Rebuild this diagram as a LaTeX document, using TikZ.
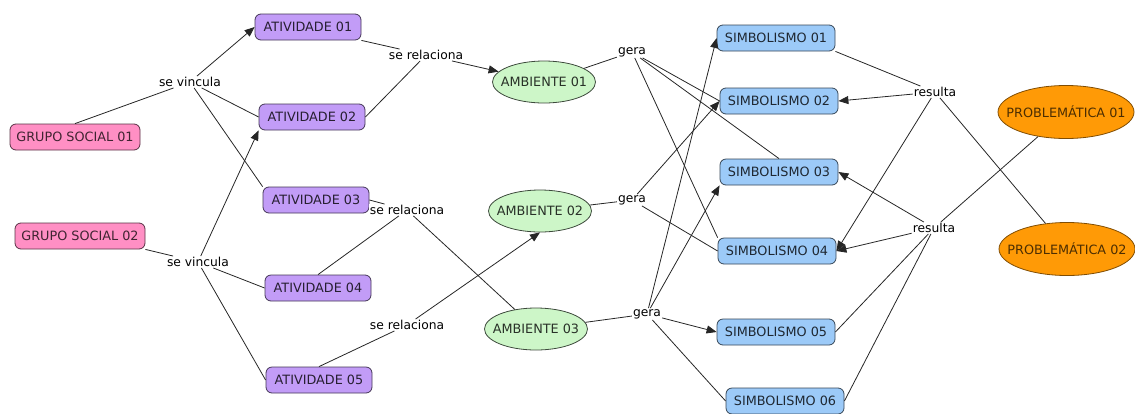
\documentclass[tikz,border=0pt]{standalone}
\usepackage{fontspec}
\setmainfont{DejaVu Sans}
\usetikzlibrary{shapes.geometric,arrows.meta}
\definecolor{gsfill}{HTML}{FF8FC4}
\definecolor{atfill}{HTML}{C29CF7}
\definecolor{amfill}{HTML}{CDF6C8}
\definecolor{smfill}{HTML}{9CCAF8}
\definecolor{prfill}{HTML}{FF9A06}
\begin{document}
\begin{tikzpicture}[x=1pt,y=-1pt,
    caixa/.style={rounded corners=6pt,minimum height=26pt,inner sep=0pt,line width=0.8pt,font=\fontsize{12.8}{15}\selectfont},
    gs/.style={caixa,draw=gsfill!35!black,fill=gsfill,text=gsfill!25!black,minimum width=130pt},
    ativ/.style={caixa,draw=atfill!35!black,fill=atfill,text=atfill!20!black,minimum width=106pt},
    simb/.style={caixa,draw=smfill!35!black,fill=smfill,text=smfill!20!black,minimum width=118pt},
    amb/.style={ellipse,draw=amfill!30!black,fill=amfill,text=amfill!20!black,inner xsep=-8pt,inner ysep=0pt,line width=0.8pt,minimum width=103pt,minimum height=42pt,font=\fontsize{12.8}{15}\selectfont},
    prob/.style={ellipse,draw=prfill!50!black,fill=prfill,text=prfill!30!black,inner xsep=-12pt,inner ysep=0pt,line width=0.8pt,minimum width=136pt,minimum height=53pt,font=\fontsize{12.8}{15}\selectfont},
    rel/.style={fill=white,inner sep=1pt,font=\fontsize{12.3}{14}\selectfont},
    liga/.style={line width=0.8pt,draw=black!85},
    seta/.style={liga,-{Triangle[length=10pt,width=8pt]}}]
\useasboundingbox (0,0) rectangle (1135,413);
\node[gs] (gs1) at (75,137) {GRUPO SOCIAL 01};
\node[gs] (gs2) at (80,236) {GRUPO SOCIAL 02};
\node[ativ] (at1) at (308,27) {ATIVIDADE 01};
\node[ativ] (at2) at (312,117) {ATIVIDADE 02};
\node[ativ] (at3) at (316,200) {ATIVIDADE 03};
\node[ativ] (at4) at (318,288) {ATIVIDADE 04};
\node[ativ] (at5) at (319,380) {ATIVIDADE 05};
\node[amb] (am1) at (544,82) {AMBIENTE 01};
\node[amb] (am2) at (540,211) {AMBIENTE 02};
\node[amb] (am3) at (536,329) {AMBIENTE 03};
\node[simb] (sm1) at (776,38) {SIMBOLISMO 01};
\node[simb] (sm2) at (779,101) {SIMBOLISMO 02};
\node[simb] (sm3) at (779,172) {SIMBOLISMO 03};
\node[simb] (sm4) at (777,251) {SIMBOLISMO 04};
\node[simb] (sm5) at (776,332) {SIMBOLISMO 05};
\node[simb] (sm6) at (785,401) {SIMBOLISMO 06};
\node[prob] (pr1) at (1066,112) {PROBLEMÁTICA 01};
\node[prob] (pr2) at (1067,249) {PROBLEMÁTICA 02};
\node[rel] (vi1) at (190,82) {se vincula};
\node[rel] (vi2) at (198,262) {se vincula};
\node[rel] (re1) at (426,55) {se relaciona};
\node[rel] (re2) at (407,210) {se relaciona};
\node[rel] (re3) at (407,325) {se relaciona};
\node[rel] (ge1) at (632,52) {gera};
\node[rel] (ge2) at (632,200) {gera};
\node[rel] (ge3) at (647,314) {gera};
\node[rel] (rs1) at (935,92) {resulta};
\node[rel] (rs2) at (934,228) {resulta};
\draw[liga] (gs1.north) -- (vi1);
\draw[seta] (vi1) -- (at1.west);
\draw[liga] (vi1) -- (at2.west);
\draw[liga] (vi1) -- (at3.north west);
\draw[liga] (gs2.south east) -- (vi2);
\draw[seta] (vi2) -- (at2.south west);
\draw[liga] (vi2) -- (at4.west);
\draw[liga] (vi2) -- (at5.west);
\draw[liga] (at1.south east) -- (re1);
\draw[liga] (at2.east) -- (re1);
\draw[seta] (re1) -- (am1);
\draw[liga] (at3.east) -- (re2);
\draw[liga] (at4.north) -- (re2);
\draw[liga] (re2) -- (am3);
\draw[liga] (at5.north) -- (re3);
\draw[seta] (re3) -- (am2.south);
\draw[liga] (am1) -- (ge1);
\draw[liga] (ge1) -- (sm2.west);
\draw[liga] (ge1) -- (sm3.north);
\draw[liga] (ge1) -- (sm4.north west);
\draw[liga] (am2) -- (ge2);
\draw[seta] (ge2) -- (sm2.west);
\draw[liga] (ge2) -- (sm4.west);
\draw[liga] (am3) -- (ge3);
\draw[seta] (ge3) -- (sm1.west);
\draw[seta] (ge3) -- (sm3.south west);
\draw[seta] (ge3) -- (sm5.west);
\draw[liga] (ge3) -- (sm6.west);
\draw[liga] (sm1.south east) -- (rs1);
\draw[seta] (rs1) -- (sm2.east);
\draw[seta] (rs1) -- (sm4.east);
\draw[liga] (rs1) -- (pr2);
\draw[liga] (pr1) -- (rs2);
\draw[seta] (rs2) -- (sm3.east);
\draw[seta] (rs2) -- (sm4.east);
\draw[liga] (rs2) -- (sm5.east);
\draw[liga] (rs2) -- (sm6.east);
\end{tikzpicture}
\end{document}
